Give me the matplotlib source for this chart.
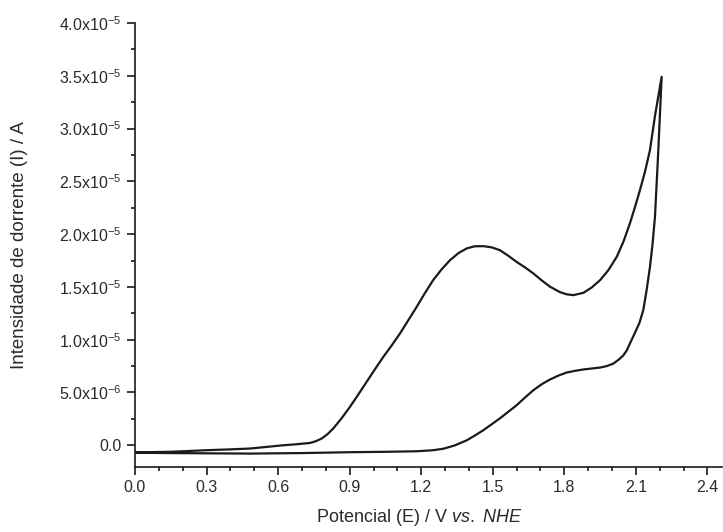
import matplotlib
matplotlib.use("Agg")
import matplotlib.pyplot as plt
from matplotlib.ticker import MultipleLocator, FixedLocator, FixedFormatter

plt.rcParams['font.family'] = ['Liberation Sans', 'DejaVu Sans']
plt.rcParams['mathtext.fontset'] = 'custom'
plt.rcParams['mathtext.rm'] = 'Liberation Sans'
plt.rcParams['mathtext.it'] = 'Liberation Sans:italic'
plt.rcParams['mathtext.bf'] = 'Liberation Sans:bold'

# Forward (anodic) scan: potential (V) and current (A, x1e-6)
forward_E = [0.000, 0.147, 0.273, 0.482, 0.700, 0.901, 1.050, 1.181, 1.250, 1.293,
             1.340, 1.391, 1.425, 1.460, 1.495, 1.530, 1.565, 1.600, 1.635, 1.670,
             1.705, 1.740, 1.775, 1.810, 1.845, 1.880, 1.915, 1.950, 1.978, 2.006,
             2.030, 2.048, 2.062, 2.075, 2.095, 2.115, 2.131, 2.145, 2.159, 2.170,
             2.180, 2.194, 2.208]
forward_I = [-0.71, -0.74, -0.76, -0.79, -0.74, -0.66, -0.62, -0.57, -0.47, -0.33,
             -0.02, 0.47, 0.92, 1.42, 1.98, 2.55, 3.17, 3.79, 4.52, 5.21,
             5.78, 6.23, 6.60, 6.89, 7.05, 7.18, 7.27, 7.36, 7.50, 7.74,
             8.15, 8.53, 9.00, 9.64, 10.60, 11.60, 12.80, 14.70, 16.90, 19.10,
             21.64, 27.96, 34.91]

# Reverse (cathodic) scan
reverse_E = [2.208, 2.180, 2.159, 2.138, 2.117, 2.096, 2.075, 2.048, 2.020, 1.985,
             1.950, 1.915, 1.880, 1.838, 1.810, 1.782, 1.740, 1.705, 1.670, 1.635,
             1.600, 1.565, 1.530, 1.495, 1.460, 1.425, 1.391, 1.356, 1.321, 1.285,
             1.250, 1.215, 1.181, 1.146, 1.111, 1.076, 1.041, 1.006, 0.971, 0.936,
             0.901, 0.866, 0.831, 0.807, 0.783, 0.758, 0.734, 0.680, 0.622, 0.550,
             0.482, 0.400, 0.298, 0.220, 0.147, 0.070, 0.000]
reverse_I = [34.91, 31.20, 27.96, 25.90, 24.17, 22.55, 21.02, 19.30, 17.86, 16.60,
             15.64, 14.95, 14.44, 14.22, 14.30, 14.50, 15.02, 15.62, 16.28, 16.85,
             17.37, 17.95, 18.48, 18.75, 18.86, 18.85, 18.65, 18.20, 17.54, 16.65,
             15.64, 14.40, 13.11, 11.85, 10.59, 9.45, 8.37, 7.20, 6.00, 4.80,
             3.63, 2.55, 1.58, 1.05, 0.64, 0.38, 0.22, 0.10, 0.00, -0.16,
             -0.31, -0.39, -0.47, -0.55, -0.62, -0.65, -0.66]

y_tick_values = [0.0, 5.0e-6, 1.0e-5, 1.5e-5, 2.0e-5, 2.5e-5, 3.0e-5, 3.5e-5, 4.0e-5]
y_tick_labels = ['0.0', r'5.0x10$^{-6}$', r'1.0x10$^{-5}$', r'1.5x10$^{-5}$', r'2.0x10$^{-5}$',
                 r'2.5x10$^{-5}$', r'3.0x10$^{-5}$', r'3.5x10$^{-5}$', r'4.0x10$^{-5}$']
x_tick_values = [0.0, 0.3, 0.6, 0.9, 1.2, 1.5, 1.8, 2.1, 2.4]
x_tick_labels = ['0.0', '0.3', '0.6', '0.9', '1.2', '1.5', '1.8', '2.1', '2.4']

fig = plt.figure(figsize=(7.23, 5.32), dpi=100)
W, H = 723, 532
left, right, top, bottom = 135, 722, 23, 467
ax = fig.add_axes([left / W, 1 - bottom / H, (right - left) / W, (bottom - top) / H])

E = forward_E + reverse_E
I = [v * 1e-6 for v in forward_I] + [v * 1e-6 for v in reverse_I]
ax.plot(E, I, color='#1a1a1a', lw=1.6, solid_joinstyle='round')

ax.set_xlim(0.0, 2.461)
ax.set_ylim(-2.06e-6, 4.0e-5)

for s in ['top', 'right']:
    ax.spines[s].set_visible(False)
for s in ['left', 'bottom']:
    ax.spines[s].set_linewidth(1.2)
    ax.spines[s].set_color('#1a1a1a')

ax.xaxis.set_major_locator(FixedLocator(x_tick_values))
ax.xaxis.set_major_formatter(FixedFormatter(x_tick_labels))
ax.xaxis.set_minor_locator(MultipleLocator(0.1))
ax.yaxis.set_major_locator(FixedLocator(y_tick_values))
ax.yaxis.set_major_formatter(FixedFormatter(y_tick_labels))
ax.yaxis.set_minor_locator(MultipleLocator(2.5e-6))

ax.tick_params(which='major', direction='out', length=5.5, width=1.2, color='#1a1a1a',
               labelsize=11.5, labelcolor='#2a2a2a', pad=4)
ax.tick_params(which='minor', direction='out', length=3, width=1.2, color='#1a1a1a')

ax.set_xlabel(r'Potencial (E) / V $\mathit{vs.\ NHE}$', fontsize=13, color='#2a2a2a')
ax.set_ylabel('Intensidade de dorrente (I) / A', fontsize=13.5, color='#2a2a2a')
ax.xaxis.set_label_coords((419 - left) / (right - left), -(518 - bottom) / (bottom - top), transform=ax.transAxes)
ax.yaxis.set_label_coords(-(135 - 20) / (right - left), 0.5, transform=ax.transAxes)
ax.xaxis.label.set_verticalalignment('center')
ax.yaxis.label.set_verticalalignment('center')

fig.savefig('out.png', dpi=100)
